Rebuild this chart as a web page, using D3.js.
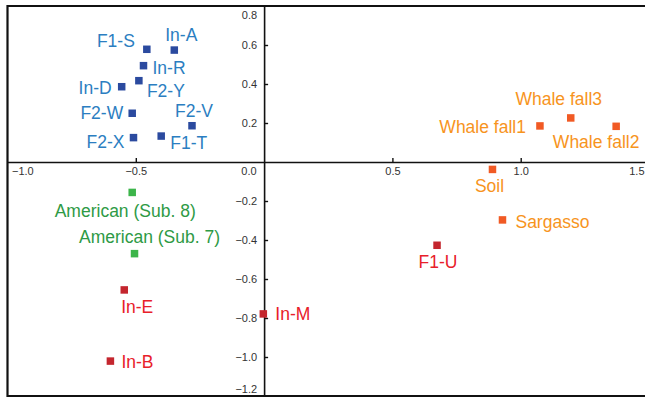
<!DOCTYPE html>
<html>
<head>
<meta charset="utf-8">
<script src="https://cdn.jsdelivr.net/npm/d3@7"></script>
<style>
  html, body { margin: 0; padding: 0; background: #fff; }
  svg { display: block; font-family: "Liberation Sans", Arial, sans-serif; }
</style>
</head>
<body>
<svg id="chart" width="645" height="398"></svg>
<script>
(() => {
  // sample names, coordinates and group
  const names = [
    "F1-S", "In-A", "In-R", "F2-Y", "In-D", "F2-W", "F2-V", "F2-X", "F1-T",
    "Whale fall1", "Whale fall3", "Whale fall2", "Soil", "Sargasso",
    "F1-U", "American (Sub. 8)", "American (Sub. 7)", "In-E", "In-M", "In-B",
  ];
  const xValues = [
    -0.457, -0.350, -0.470, -0.488, -0.555, -0.514, -0.281, -0.509, -0.401,
    1.075, 1.195, 1.372, 0.890, 0.929,
    0.674, -0.514, -0.505, -0.545, -0.003, -0.599,
  ];
  const yValues = [
    0.578, 0.574, 0.494, 0.417, 0.386, 0.250, 0.186, 0.125, 0.133,
    0.185, 0.226, 0.183, -0.038, -0.297,
    -0.427, -0.156, -0.470, -0.656, -0.779, -1.021,
  ];
  const groups = [
    "blue", "blue", "blue", "blue", "blue", "blue", "blue", "blue", "blue",
    "orange", "orange", "orange", "orange", "orange",
    "red", "green", "green", "red", "red", "red",
  ];
  const xTicks = [-1.0, -0.5, 0.0, 0.5, 1.0, 1.5];
  const yTicks = [0.8, 0.6, 0.4, 0.2, -0.2, -0.4, -0.6, -0.8, -1.0, -1.2];

  const MARK_COLOR = { blue: "#2b4a9f", orange: "#f15a24", green: "#3cb54a", red: "#c4262e" };
  const TEXT_COLOR = { blue: "#2b7ec1", orange: "#f7941d", green: "#2e9a45", red: "#e8202a" };

  // label placement around each mark: [anchor, dx, dy]
  const placement = {
    "F1-S": ["end", -12, -8],
    "In-A": ["middle", 7, -15],
    "In-R": ["start", 9, 2],
    "F2-Y": ["start", 8, 10],
    "In-D": ["end", -10, 1],
    "F2-W": ["end", -9, 0],
    "F2-V": ["middle", 2, -15],
    "F2-X": ["end", -9, 4],
    "F1-T": ["start", 9, 7],
    "Whale fall1": ["end", -14, 1],
    "Whale fall3": ["middle", -12, -19],
    "Whale fall2": ["middle", -20, 16],
    "Soil": ["middle", -3, 16],
    "Sargasso": ["start", 13, 2],
    "F1-U": ["middle", 1, 17],
    "American (Sub. 8)": ["middle", -7, 18],
    "American (Sub. 7)": ["middle", 15, -17],
    "In-E": ["middle", 13, 17],
    "In-M": ["start", 12, 0],
    "In-B": ["start", 11, 1],
  };

  const d3 = window.d3;
  const svg = d3.select("#chart");

  const x = d3.scaleLinear().domain([-1, 1.5]).range([7.5, 649]);
  const y = d3.scaleLinear().domain([0.8, -1.2]).range([6, 396]);
  const fmt = d3.format(".1f");

  // frame (open on the right)
  svg.append("path")
    .attr("d", `M645,${y(0.8)}H${x(-1)}V${y(-1.2)}H645`)
    .attr("fill", "none")
    .attr("stroke", "#111")
    .attr("stroke-width", 2.2);

  // x axis through y = 0
  const xAxis = svg.append("g")
    .attr("transform", `translate(0,${y(0)})`)
    .call(d3.axisBottom(x).tickValues(xTicks).tickFormat(fmt)
      .tickSizeInner(-4).tickSizeOuter(0).tickPadding(5));
  xAxis.select(".domain").attr("stroke", "#111").attr("stroke-width", 1.6);
  xAxis.selectAll(".tick line").attr("stroke", "#111").attr("stroke-width", 1.4);
  xAxis.selectAll(".tick text")
    .attr("fill", "#333").style("font-size", "11px")
    .attr("text-anchor", (d) => (d === -1 ? "start" : d === 1.5 ? "end" : d === 0 ? "end" : "middle"))
    .attr("dx", (d) => (d === -1 ? 4 : d === 0 ? -8 : d === 1.5 ? -5 : 0));
  xAxis.selectAll(".tick").filter((d) => d === 0 || d === -1).select("line").remove();

  // y axis through x = 0
  const yAxis = svg.append("g")
    .attr("transform", `translate(${x(0)},0)`)
    .call(d3.axisLeft(y).tickValues(yTicks).tickFormat(fmt)
      .tickSizeInner(-4).tickSizeOuter(0).tickPadding(7));
  yAxis.select(".domain").attr("stroke", "#111").attr("stroke-width", 1.6);
  yAxis.selectAll(".tick line").attr("stroke", "#111").attr("stroke-width", 1.4);
  yAxis.selectAll(".tick text")
    .attr("fill", "#333").style("font-size", "11px")
    .attr("dy", (d) => (d === 0.8 ? "1.15em" : d === -1.2 ? "-0.3em" : "0.32em"));
  yAxis.selectAll(".tick").filter((d) => d === 0.8 || d === -1.2).select("line").remove();

  const points = names.map((name, i) => ({
    name, x: xValues[i], y: yValues[i], group: groups[i],
  }));

  const SIZE = 7.5;
  svg.append("g")
    .selectAll("rect")
    .data(points)
    .join("rect")
    .attr("x", (d) => x(d.x) - SIZE / 2)
    .attr("y", (d) => y(d.y) - SIZE / 2)
    .attr("width", SIZE)
    .attr("height", SIZE)
    .attr("fill", (d) => MARK_COLOR[d.group]);

  svg.append("g")
    .selectAll("text")
    .data(points)
    .join("text")
    .attr("x", (d) => x(d.x) + placement[d.name][1])
    .attr("y", (d) => y(d.y) + placement[d.name][2])
    .attr("dy", "0.35em")
    .attr("text-anchor", (d) => placement[d.name][0])
    .attr("fill", (d) => TEXT_COLOR[d.group])
    .style("font-size", "17.5px")
    .text((d) => d.name);
})();
</script>
</body>
</html>
